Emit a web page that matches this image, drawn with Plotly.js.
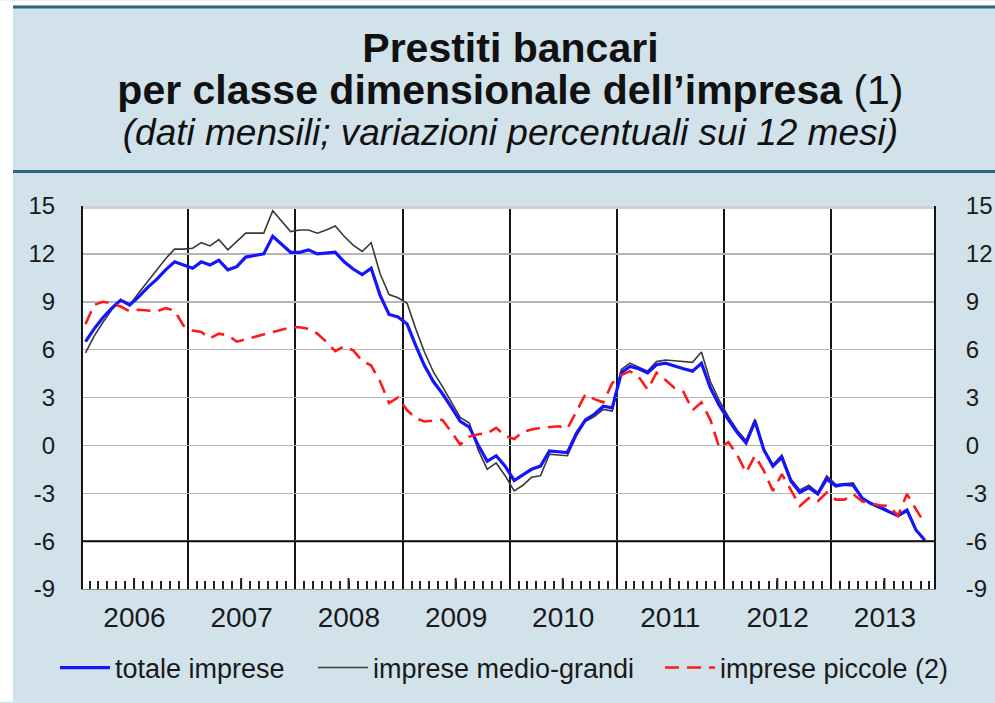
<!DOCTYPE html>
<html>
<head>
<meta charset="utf-8">
<script src="https://cdn.plot.ly/plotly-3.0.1.min.js"></script>
<style>
  html, body { margin: 0; padding: 0; background: #ffffff; }
  #chart { width: 995px; height: 703px; }
</style>
</head>
<body>
<div id="chart"></div>
<script>
// ---- data (monthly, 12-month % change), Jan 2006 .. Nov 2013 ----
const startYear = 2006;
const startMonth = 1;
const years = ['2006', '2007', '2008', '2009', '2010', '2011', '2012', '2013'];
const yTicks = [-9, -6, -3, 0, 3, 6, 9, 12, 15];

const totaleImprese = [
  6.5, 7.3, 8.0, 8.6, 9.1, 8.8, 9.3, 9.9, 10.4, 11.0,
  11.5, 11.3, 11.1, 11.5, 11.3, 11.6, 11.0, 11.2, 11.8, 11.9,
  12.0, 13.1, 12.6, 12.1, 12.1, 12.25, 12.0, 12.05, 12.1, 11.5,
  11.05, 10.7, 11.1, 9.4, 8.2, 8.05, 7.6, 6.25, 5.0, 4.0,
  3.25, 2.4, 1.5, 1.15, 0.0, -1.0, -0.65, -1.3, -2.2, -1.85,
  -1.5, -1.3, -0.35, -0.4, -0.45, 0.75, 1.6, 1.95, 2.45, 2.35,
  4.55, 4.95, 4.8, 4.55, 5.05, 5.15, 4.95, 4.8, 4.65, 5.15,
  3.6, 2.5, 1.6, 0.8, 0.15, 1.5, -0.3, -1.3, -0.75, -2.25,
  -2.95, -2.65, -3.05, -2.1, -2.55, -2.45, -2.5, -3.3, -3.65, -3.85,
  -4.15, -4.4, -4.05, -5.3, -5.95
];

const impreseMedioGrandi = [
  5.8, 6.85, 7.7, 8.5, 9.1, 8.8, 9.55, 10.25, 11.0, 11.7,
  12.3, 12.3, 12.35, 12.7, 12.5, 12.9, 12.25, 12.8, 13.3, 13.3,
  13.3, 14.7, 14.05, 13.4, 13.5, 13.5, 13.3, 13.5, 13.75, 13.1,
  12.55, 12.15, 12.7, 10.75, 9.45, 9.25, 8.9, 7.3, 5.85, 4.6,
  3.7, 2.7, 1.75, 1.4, -0.3, -1.5, -1.1, -1.9, -2.85, -2.5,
  -2.0, -1.9, -0.55, -0.6, -0.65, 0.6, 1.5, 1.8, 2.25, 2.15,
  4.75, 5.15, 4.9, 4.65, 5.25, 5.35, 5.3, 5.25, 5.2, 5.85,
  4.0, 2.8, 1.8, 0.95, 0.3, 1.65, -0.2, -1.2, -0.6, -2.1,
  -2.8, -2.5, -2.95, -1.9, -2.45, -2.4, -2.35, -3.3, -3.7, -3.95,
  -4.2, -4.45, -4.15, -5.3, -5.95
];

const impresePiccole = [
  7.6, 8.8, 9.0, 8.9, 8.7, 8.4, 8.5, 8.45, 8.4, 8.6,
  8.45, 7.5, 7.2, 7.1, 6.7, 7.0, 6.9, 6.5, 6.65, 6.8,
  6.95, 7.1, 7.25, 7.4, 7.4, 7.3, 7.0, 6.5, 5.9, 6.2,
  5.95, 5.3, 5.0, 4.0, 2.65, 3.0, 2.2, 1.7, 1.5, 1.55,
  1.6, 0.85, 0.05, 0.55, 0.7, 0.75, 1.1, 0.6, 0.4, 0.85,
  1.0, 1.1, 1.15, 1.2, 1.05, 2.15, 3.2, 2.9, 2.7, 3.9,
  4.4, 4.65, 4.3, 3.5, 4.55, 4.1, 3.6, 3.35, 2.2, 2.7,
  1.6, -0.15, 0.2, -0.6, -1.7, -0.65, -1.6, -2.85, -1.8, -2.8,
  -3.8, -3.3, -3.5, -2.95, -3.4, -3.4, -3.05, -3.5, -3.65, -3.75,
  -3.8, -4.4, -3.05, -4.0, -4.9
];

// month categories (YYYY-MM) for each observation
const months = totaleImprese.map((_, i) => {
  const m = startMonth - 1 + i;
  return (startYear + Math.floor(m / 12)) + '-' + String((m % 12) + 1).padStart(2, '0');
});

// ---- geometry of the page ----
const W = 995, H = 703;
const PL = 83, PR = 934, PT = 206, PB = 590;
const pw = PR - PL, ph = PB - PT;
const px = v => (v - PL) / pw;          // pixel x -> paper x
const py = v => (PB - v) / ph;          // pixel y -> paper y
const yp = v => (v - yTicks[0]) / (yTicks[8] - yTicks[0]);   // value -> paper y

const FONT = 'Liberation Sans, Arial, Helvetica, sans-serif';
const BG = '#d1e2eb';
const RULE = '#2f6483';

const common = { mode: 'lines', xperiod: 'M1', xperiodalignment: 'middle', hoverinfo: 'skip' };

const traces = [
  Object.assign({}, common, {
    x: months, y: impreseMedioGrandi, name: 'imprese medio-grandi', legend: 'legend2',
    line: { color: '#3a3a3a', width: 1.6 }
  }),
  Object.assign({}, common, {
    x: months, y: totaleImprese, name: 'totale imprese', legend: 'legend',
    line: { color: '#1414ff', width: 3.2 }
  }),
  Object.assign({}, common, {
    x: months, y: impresePiccole, name: 'imprese piccole (2)', legend: 'legend3',
    line: { color: '#ff1a1a', width: 2.6, dash: '14px,8px' }
  }),
  { x: [], y: [], yaxis: 'y2', showlegend: false, hoverinfo: 'skip', mode: 'lines' }
];

const shapes = [
  // black reference line at -6
  { type: 'line', xref: 'paper', x0: 0, x1: 1, yref: 'paper', y0: yp(yTicks[1]), y1: yp(yTicks[1]),
    line: { color: '#111111', width: 2 }, layer: 'above' },
  // light band along the top edge of the plot
  { type: 'line', xref: 'paper', x0: 0, x1: 1, yref: 'paper', y0: 1 - 1.5 / ph, y1: 1 - 1.5 / ph,
    line: { color: '#d0d0d0', width: 3 }, layer: 'above' },
  // frame decorations
  { type: 'rect', xref: 'paper', yref: 'paper', x0: px(0), x1: px(13), y0: py(H), y1: py(0),
    fillcolor: '#ffffff', line: { width: 0 }, layer: 'above' },
  { type: 'rect', xref: 'paper', yref: 'paper', x0: px(13), x1: px(W), y0: py(5), y1: py(0),
    fillcolor: '#ffffff', line: { width: 0 }, layer: 'above' },
  { type: 'rect', xref: 'paper', yref: 'paper', x0: px(13), x1: px(W), y0: py(8), y1: py(5),
    fillcolor: RULE, line: { width: 0 }, layer: 'above' },
  { type: 'rect', xref: 'paper', yref: 'paper', x0: px(13), x1: px(W), y0: py(173), y1: py(170),
    fillcolor: RULE, line: { width: 0 }, layer: 'above' }
];
// taller mid-year ticks
years.forEach(y => {
  shapes.push({ type: 'line', xref: 'x', x0: y + '-07-01', x1: y + '-07-01',
    yref: 'paper', y0: 0, y1: 11 / ph, line: { color: '#222222', width: 2 }, layer: 'above' });
});

const legendBase = {
  orientation: 'h', xanchor: 'left', xref: 'paper',
  y: py(668), yanchor: 'middle', yref: 'paper',
  font: { family: FONT, size: 27, color: '#1a1a1a' },
  bgcolor: 'rgba(0,0,0,0)', itemwidth: 50
};

const layout = {
  width: W, height: H,
  margin: { l: PL, r: W - PR, t: PT, b: H - PB, pad: 0 },
  paper_bgcolor: BG,
  plot_bgcolor: '#ffffff',
  font: { family: FONT, color: '#1a1a1a' },
  title: {
    text: '<span style="font-size:41px"><b>Prestiti bancari</b></span><br>' +
          '<span style="font-size:41px"><b>per classe dimensionale dell\u2019impresa</b> (1)</span><br>' +
          '<span style="font-size:37px"><i>(dati mensili; variazioni percentuali sui 12 mesi)</i></span>',
    font: { family: FONT, size: 32, color: '#111111' },
    xref: 'container', x: 0.513, xanchor: 'center',
    yref: 'container', y: 1 - 62 / H, yanchor: 'top'
  },
  showlegend: true,
  legend: Object.assign({}, legendBase, { x: px(55) }),
  legend2: Object.assign({}, legendBase, { x: px(313) }),
  legend3: Object.assign({}, legendBase, { x: px(660) }),
  xaxis: {
    type: 'date', range: ['2006-01-08', '2013-12-17'],
    tick0: '2006-01-01', dtick: 'M12', tickformat: '%Y', ticklabelmode: 'period',
    showgrid: true, gridcolor: '#151515', gridwidth: 2,
    ticks: '', showline: true, linecolor: '#888888', linewidth: 1,
    tickfont: { family: FONT, size: 28, color: '#1a1a1a' },
    ticklabelstandoff: 3,
    minor: { tick0: '2006-01-01', dtick: 'M1', ticks: 'inside', ticklen: 8, tickwidth: 2,
             tickcolor: '#222222', showgrid: false },
    zeroline: false, fixedrange: true
  },
  yaxis: {
    range: [yTicks[0], yTicks[8]], tickmode: 'array', tickvals: yTicks, ticktext: yTicks.map(String),
    showgrid: true, gridcolor: '#b5b5b5', gridwidth: 1.5, zeroline: false,
    showline: true, linecolor: '#151515', linewidth: 2, ticks: '',
    tickfont: { family: FONT, size: 24, color: '#1a1a1a' },
    ticklabelstandoff: 21, fixedrange: true
  },
  yaxis2: {
    overlaying: 'y', side: 'right', range: [yTicks[0], yTicks[8]],
    tickmode: 'array', tickvals: yTicks, ticktext: yTicks.map(String),
    showgrid: false, zeroline: false, showline: true, linecolor: '#151515', linewidth: 2,
    ticks: '', tickfont: { family: FONT, size: 24, color: '#1a1a1a' },
    ticklabelstandoff: 25, fixedrange: true
  },
  shapes: shapes
};

Plotly.newPlot('chart', traces, layout, { displayModeBar: false, staticPlot: true });
</script>
</body>
</html>
